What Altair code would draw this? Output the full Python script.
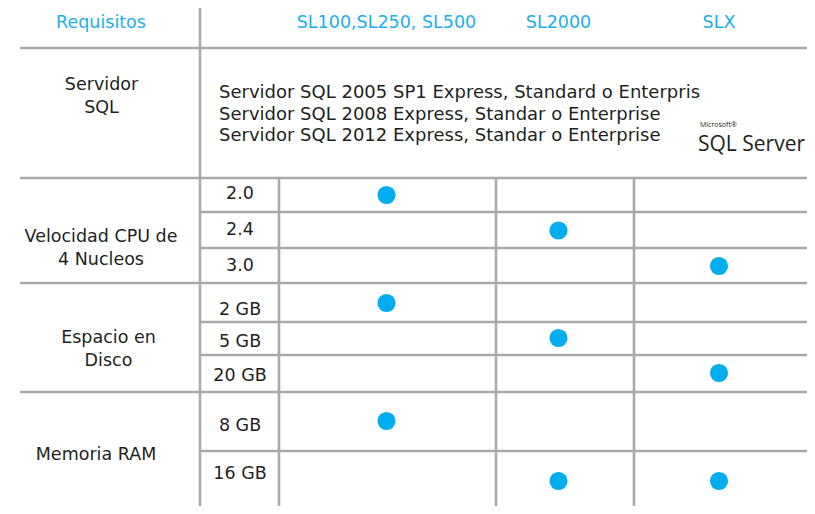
import altair as alt
import pandas as pd

# ---------------- data ----------------
header_label = "Requisitos"
products = ["SL100,SL250, SL500", "SL2000", "SLX"]
groups = ["Servidor\nSQL", "Velocidad CPU de\n4 Nucleos", "Espacio en\nDisco", "Memoria RAM"]
sql_versions = [
    "Servidor SQL 2005 SP1 Express, Standard o Enterprise",
    "Servidor SQL 2008 Express, Standar o Enterprise",
    "Servidor SQL 2012 Express, Standar o Enterprise",
]
cpu_options = ["2.0", "2.4", "3.0"]
disk_options = ["2 GB", "5 GB", "20 GB"]
ram_options = ["8 GB", "16 GB"]
# requirement of each product (same order as products)
cpu_req = ["2.0", "2.4", "3.0"]
disk_req = ["2 GB", "5 GB", "20 GB"]
ram_req = ["8 GB", "16 GB", "16 GB"]
logo_brand = "Microsoft®"
logo_name = "SQL Server"

# ---------------- layout (page pixels) ----------------
W, H = 799, 498
XMIN, YMIN = 8, 8
RIGHT = 815
BOTTOM = 514
left_edge = 20
label_col = 200
sub_col = 279
product_edges = [496, 634]
product_x = [386.5, 558.5, 719]
header_y = 23
group_edges = [48, 178, 283, 392]
sub_edges = [212, 248, 322, 355, 451]
group_x = [101.5, 101, 108.5, 96]
group_y = [84.5, 237, 337.5, 455]
sql_x, sql_y = 219, [93, 114.5, 136]
sub_x = 240
sub_label_y = [194, 230, 266, 310, 342, 376, 426, 474]
sub_row_center = [195, 230.5, 266, 303, 338, 373, 421, 481]

TXT = "#231F20"
BLUE = "#1DAEEC"
DOT = "#00AEEF"
GRID = "#A7A9AC"
FONT = "DejaVu Sans"
FS = 18

xs = alt.Scale(domain=[XMIN, XMIN + W], nice=False, zero=False)
ys = alt.Scale(domain=[YMIN, YMIN + H], nice=False, zero=False, reverse=True)


def X(f):
    return alt.X(f, type="quantitative", scale=xs, axis=None)


def Y(f):
    return alt.Y(f, type="quantitative", scale=ys, axis=None)


# grid lines
hlines = pd.DataFrame(
    [{"x": left_edge, "x2": RIGHT, "y": y} for y in group_edges]
    + [{"x": label_col, "x2": RIGHT, "y": y} for y in sub_edges]
)
vlines = pd.DataFrame(
    [{"x": label_col, "y": 5, "y2": BOTTOM}]
    + [{"x": x, "y": group_edges[1], "y2": BOTTOM} for x in [sub_col] + product_edges]
)

h_rule = alt.Chart(hlines).mark_rule(color=GRID, strokeWidth=2.6).encode(
    x=X("x"), x2="x2", y=Y("y")
)
v_rule = alt.Chart(vlines).mark_rule(color=GRID, strokeWidth=2.6).encode(
    x=X("x"), y=Y("y"), y2="y2"
)

# header
header_df = pd.DataFrame(
    {"t": [header_label] + products, "x": [101] + product_x, "y": [header_y] * 4}
)
header = alt.Chart(header_df).mark_text(
    font=FONT, fontSize=17.5, color=BLUE, align="center", baseline="middle"
).encode(x=X("x"), y=Y("y"), text="t:N")

# group labels
group_df = pd.DataFrame({"t": groups, "x": group_x, "y": group_y})
group_txt = alt.Chart(group_df).mark_text(
    font=FONT, fontSize=17.5, color=TXT, align="center", baseline="middle",
    lineBreak="\n", lineHeight=23,
).encode(x=X("x"), y=Y("y"), text="t:N")

# SQL versions (first line is hidden behind the logo in the original)
sql_df = pd.DataFrame({"t": sql_versions, "x": [sql_x] * 3, "y": sql_y})
sql_txt = alt.Chart(sql_df).mark_text(
    font=FONT, fontSize=FS, color=TXT, align="left", baseline="middle",
    limit=490, ellipsis="\u200b",
).encode(x=X("x"), y=Y("y"), text="t:N")

# sub-row labels
sub_labels = cpu_options + disk_options + ram_options
sub_df = pd.DataFrame({"t": sub_labels, "x": [sub_x] * len(sub_labels), "y": sub_label_y})
sub_txt = alt.Chart(sub_df).mark_text(
    font=FONT, fontSize=17.5, color=TXT, align="center", baseline="middle"
).encode(x=X("x"), y=Y("y"), text="t:N")

# dots
rows = []
for opts, req, off in [(cpu_options, cpu_req, 0), (disk_options, disk_req, 3), (ram_options, ram_req, 6)]:
    for pi, r in enumerate(req):
        idx = off + opts.index(r)
        rows.append({"product": products[pi], "value": r, "x": product_x[pi], "y": sub_row_center[idx]})
dots_df = pd.DataFrame(rows)
dots = alt.Chart(dots_df).mark_circle(color=DOT, opacity=1, size=330).encode(
    x=X("x"), y=Y("y"), tooltip=["product:N", "value:N"]
)

# logo text
logo_df = pd.DataFrame({"t": [logo_brand, logo_name], "x": [700, 698], "y": [125, 145]})
logo_small = alt.Chart(logo_df.iloc[[0]]).mark_text(
    font="Open Sans", fontSize=7, color=TXT, align="left", baseline="middle"
).encode(x=X("x"), y=Y("y"), text="t:N")
logo_big = alt.Chart(logo_df.iloc[[1]]).mark_text(
    font="Open Sans", fontSize=21, color=TXT, align="left", baseline="middle"
).encode(x=X("x"), y=Y("y"), text="t:N")

chart = alt.layer(
    h_rule, v_rule, header, group_txt, sql_txt, sub_txt, dots, logo_small, logo_big
).properties(
    width=W, height=H, padding=0, autosize=alt.AutoSizeParams(type="none")
).configure_view(stroke=None)

chart.save("out.html", embed_options={"renderer": "svg", "actions": False})
